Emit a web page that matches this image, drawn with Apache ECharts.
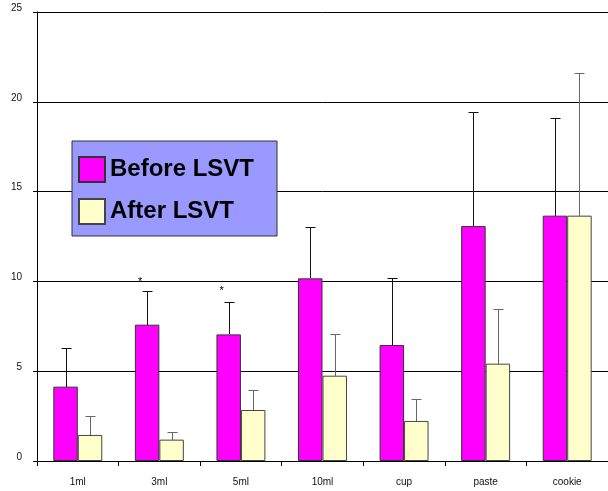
<!DOCTYPE html>
<html>
<head>
<meta charset="utf-8">
<script src="https://cdn.jsdelivr.net/npm/echarts@6/dist/echarts.min.js"></script>
<style>
  html, body { margin: 0; padding: 0; background: #fff; }
  #chart { width: 608px; height: 491px; }
</style>
</head>
<body>
<div id="chart"></div>
<script>
// Swallowing task: mean scores before and after LSVT, with SD whiskers
var categories = ['1ml', '3ml', '5ml', '10ml', 'cup', 'paste', 'cookie'];
var beforeMean = [4.14, 7.59, 7.05, 10.17, 6.46, 13.08, 13.66];
var beforeSD   = [2.15, 1.89, 1.82, 2.88, 3.73, 6.37, 5.44];
var afterMean  = [1.45, 1.19, 2.84, 4.75, 2.23, 5.42, 13.66];
var afterSD    = [1.05, 0.44, 1.11, 2.32, 1.22, 3.04, 7.94];
// significance markers (value level of the asterisk), null where none
var sigLevel   = [null, 10.13, 9.65, null, null, null, null];
var yTicks     = [0, 5, 10, 15, 20, 25];

var BAR_FRACTION = 0.3; // each bar's share of a category band

function errorData(means, sds) {
  return means.map(function (m, i) { return [i, m + sds[i], m]; });
}

function errorRenderer(side, color) {
  return function (params, api) {
    var idx = api.value(0);
    var top = api.coord([idx, api.value(1)]);
    var base = api.coord([idx, api.value(2)]);
    var band = api.size([1, 0])[0];
    var x = Math.round(top[0] + side * band * BAR_FRACTION / 2) + 0.5;
    var yt = Math.round(top[1]) + 0.5;
    var yb = Math.round(base[1]);
    var style = { stroke: color, lineWidth: 1 };
    return {
      type: 'group',
      children: [
        { type: 'line', shape: { x1: x, y1: yb, x2: x, y2: yt }, style: style },
        { type: 'line', shape: { x1: x - 5, y1: yt, x2: x + 5, y2: yt }, style: style }
      ]
    };
  };
}

var chart = echarts.init(document.getElementById('chart'), null, { renderer: 'canvas' });

chart.setOption({
  animation: false,
  backgroundColor: '#ffffff',
  grid: { left: 37, top: 12, width: 581, height: 449, containLabel: false },
  legend: {
    orient: 'vertical',
    left: 72,
    top: 141,
    padding: [15, 23, 11, 6],
    itemGap: 15,
    itemWidth: 26,
    itemHeight: 25,
    backgroundColor: '#9999ff',
    borderColor: '#333333',
    borderWidth: 1,
    icon: 'rect',
    textStyle: { fontFamily: 'Liberation Sans, Arial, sans-serif', fontWeight: 'bold', fontSize: 24, lineHeight: 24, color: '#000' },
    data: ['Before LSVT', 'After LSVT']
  },
  xAxis: {
    type: 'category',
    data: categories,
    axisLine: { lineStyle: { color: '#000', width: 1 } },
    axisTick: { show: true, length: 5, alignWithLabel: false, lineStyle: { color: '#000' } },
    axisLabel: { margin: 16, fontSize: 10, color: '#111', fontFamily: 'Liberation Sans, Arial, sans-serif' },
    splitLine: { show: false }
  },
  yAxis: {
    type: 'value',
    min: yTicks[0],
    max: yTicks[yTicks.length - 1],
    interval: yTicks[1] - yTicks[0],
    axisLine: { show: true, lineStyle: { color: '#000', width: 1 } },
    axisTick: { show: true, length: 4, lineStyle: { color: '#000' } },
    axisLabel: { margin: 15, fontSize: 10, color: '#111', fontFamily: 'Liberation Sans, Arial, sans-serif', verticalAlign: 'bottom', lineHeight: 8 },
    splitLine: { show: true, lineStyle: { color: '#000', width: 1 } }
  },
  series: [
    {
      name: 'Before LSVT',
      type: 'bar',
      data: beforeMean,
      barGap: '0%',
      barCategoryGap: '40%',
      itemStyle: { color: '#ff00ff', borderColor: '#333333', borderWidth: 1 },
      z: 3
    },
    {
      name: 'After LSVT',
      type: 'bar',
      data: afterMean,
      itemStyle: { color: '#ffffcc', borderColor: '#444444', borderWidth: 1 },
      z: 3
    },
    {
      type: 'custom',
      name: 'before-sd',
      data: errorData(beforeMean, beforeSD),
      renderItem: errorRenderer(-1, '#111111'),
      encode: { x: 0, y: [1, 2] },
      z: 4,
      silent: true
    },
    {
      type: 'custom',
      name: 'after-sd',
      data: errorData(afterMean, afterSD),
      renderItem: errorRenderer(1, '#666666'),
      encode: { x: 0, y: [1, 2] },
      z: 4,
      silent: true
    },
    {
      type: 'custom',
      name: 'significance',
      data: sigLevel.map(function (v, i) { return v == null ? null : [i, v]; }).filter(function (d) { return d; }),
      renderItem: function (params, api) {
        var idx = api.value(0);
        var p = api.coord([idx, api.value(1)]);
        var band = api.size([1, 0])[0];
        return {
          type: 'text',
          x: p[0] - band * BAR_FRACTION / 2 - 7,
          y: p[1] + 3,
          style: { text: '*', fill: '#000', fontSize: 11, fontFamily: 'Liberation Sans, Arial, sans-serif', align: 'center', verticalAlign: 'middle' }
        };
      },
      encode: { x: 0, y: 1 },
      z: 5,
      silent: true
    }
  ]
});
</script>
</body>
</html>
